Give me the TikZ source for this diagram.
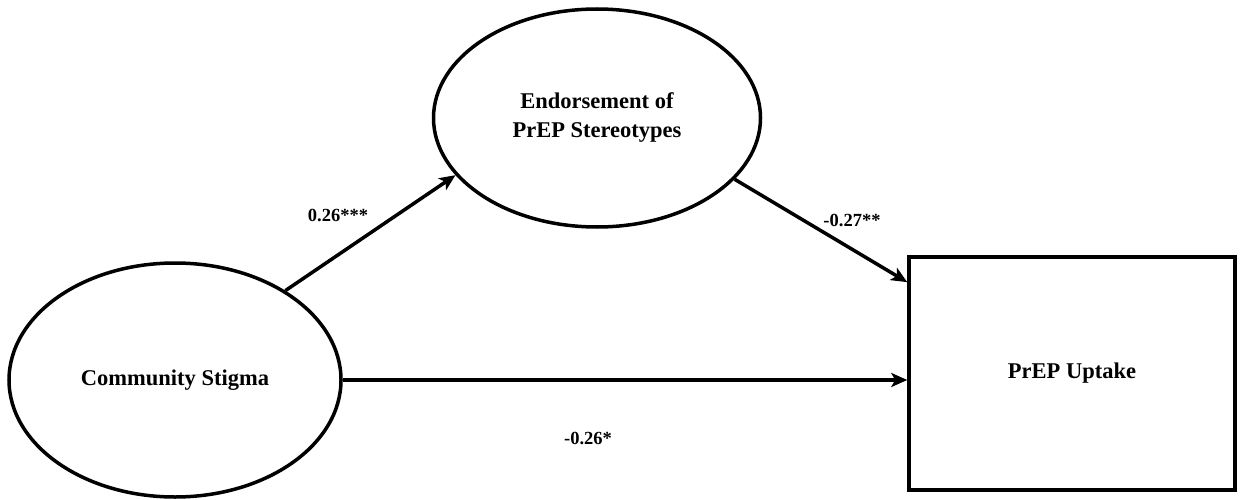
\documentclass[tikz,border=0pt]{standalone}
\usepackage{fontspec}
\setmainfont{Liberation Serif}
\usetikzlibrary{shapes.geometric,arrows.meta,calc}
\tikzset{
  latent/.style={ellipse, draw, line width=3.5pt, font=\fontsize{22.5}{29}\selectfont\bfseries, align=center, inner sep=0pt},
  observed/.style={rectangle, draw, line width=3.5pt, font=\fontsize{22.5}{29}\selectfont\bfseries, align=center},
  path/.style={line width=3.5pt, -{Stealth[length=16pt,width=14pt,inset=4pt]}},
  coef/.style={font=\fontsize{18.5}{22}\selectfont\bfseries, inner sep=0pt}
}
\begin{document}
\begin{tikzpicture}[x=1pt,y=-1pt]
\useasboundingbox (0,0) rectangle (1244,500);
\node[latent, minimum width=332pt, minimum height=234pt] (cs) at (175,380) {Community Stigma};
\node[latent, minimum width=327pt, minimum height=218pt] (ps) at (597,118) {Endorsement of\\PrEP Stereotypes};
\node[observed, minimum width=326pt, minimum height=233pt] (up) at (1072,373.5) {PrEP Uptake};
\draw[path] (cs.39) -- (ps.202);
\draw[path] (ps.-24) -- (up.151);
\draw[path] (cs.east) -- (cs.east -| up.west);
\node[coef] (l1) at (338,215) {0.26***};
\node[coef] (l2) at (852,220) {-0.27**};
\node[coef] (l3) at (588,438) {-0.26*};
\end{tikzpicture}
\end{document}
